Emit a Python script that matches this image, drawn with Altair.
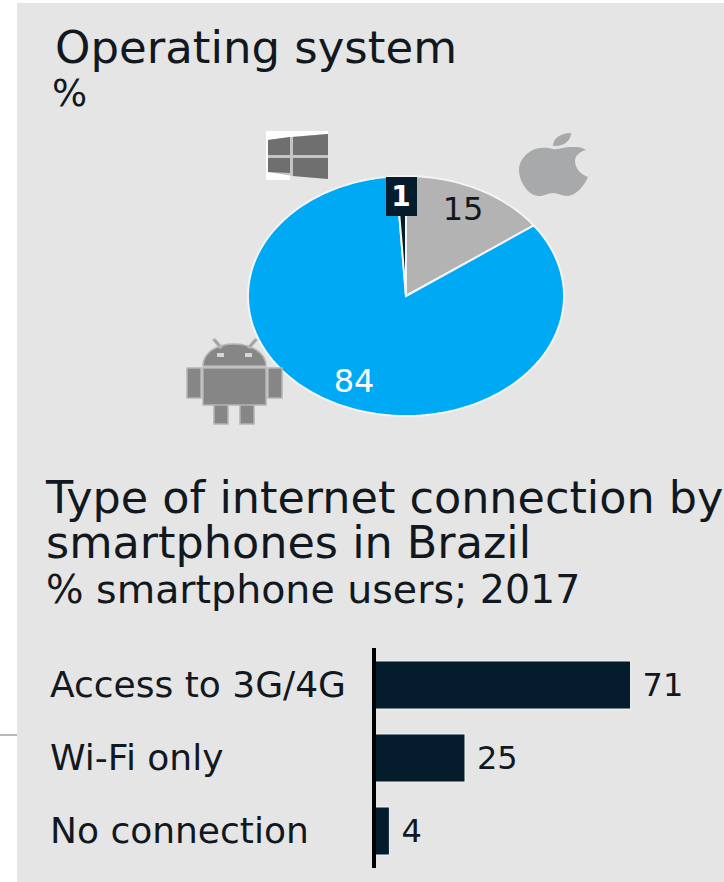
import math
import altair as alt
import pandas as pd

WIDTH, HEIGHT = 724, 882
FONT = "DejaVu Sans"
INK = "#111820"
NAVY = "#051c2c"
PANEL = "#e5e5e5"

# Operating system shares, clockwise from twelve o'clock
os_names = ["iOS", "Android", "Windows"]
os_shares = [15, 84, 1]
os_colors = ["#b3b3b3", "#00a9f4", NAVY]

# Connection types
conn_names = ["Access to 3G/4G", "Wi-Fi only", "No connection"]
conn_values = [71, 25, 4]


def wedge_outline(shares):
    """Outline of every pie slice, in unit-circle coordinates."""
    rows, start = [], 0.0
    total = sum(shares)
    for slice_id, share in enumerate(shares):
        sweep = share / total * 2 * math.pi
        steps = max(4, int(share * 2))
        rows.append({"slice": slice_id, "step": 0, "px": 0.0, "py": 0.0})
        for k in range(steps + 1):
            a = start + sweep * k / steps
            rows.append({"slice": slice_id, "step": k + 1,
                         "px": math.sin(a), "py": math.cos(a)})
        start += sweep
    return pd.DataFrame(rows)


def icon_path(cx, cy, half, commands):
    """Turn page-space path commands into the [-1, 1] box a point shape uses."""
    parts = []
    for cmd, *coords in commands:
        pts = [f"{(coords[i] - cx) / half:.3f},{(coords[i + 1] - cy) / half:.3f}"
               for i in range(0, len(coords), 2)]
        parts.append(cmd + " ".join(pts))
    return " ".join(parts)


def poly(points):
    cmds = [("M", *points[0])] + [("L", *p) for p in points[1:]] + [("Z",)]
    return cmds


one = pd.DataFrame({"k": [0]})


def panel_rect(x0, x1, y0, y1, color):
    return alt.Chart(one).mark_rect(color=color).encode(
        x=alt.value(x0), x2=alt.value(x1), y=alt.value(y0), y2=alt.value(y1))


def label(text, x, baseline_y, size, color=INK, weight="normal"):
    return alt.Chart(pd.DataFrame({"t": [text]})).mark_text(
        align="left", baseline="alphabetic", font=FONT, fontSize=size,
        color=color, fontWeight=weight,
    ).encode(x=alt.value(x), y=alt.value(baseline_y), text="t:N")


def icon(path, cx, cy, half, color, stroke=None, stroke_width=1):
    extra = {"stroke": stroke, "strokeWidth": stroke_width} if stroke else {"strokeWidth": 0}
    return alt.Chart(one).mark_point(
        shape=path, size=(2 * half) ** 2, filled=True, fill=color, opacity=1, **extra
    ).encode(x=alt.value(cx), y=alt.value(cy))


layers = [
    panel_rect(17, WIDTH, 3, HEIGHT, PANEL),
    alt.Chart(one).mark_rule(color="#a0a0a0", strokeWidth=1.5).encode(
        x=alt.value(0), x2=alt.value(17), y=alt.value(735)),
    label("Operating system", 55, 63, 45),
    label("%", 52, 106, 37),
    label("Type of internet connection by", 46, 513, 44.5),
    label("smartphones in Brazil", 46, 558, 44.5),
    label("% smartphone users; 2017", 46, 603, 39.5),
]

# Elliptical pie: the x and y scales span different pixel lengths
outline = wedge_outline(os_shares)
pie_x = alt.Scale(domain=[-1, 1], range=[248, 564])
pie_y = alt.Scale(domain=[-1, 1], range=[416, 176])
for i, color in enumerate(os_colors):
    layers.append(
        alt.Chart(outline[outline["slice"] == i]).mark_line(
            interpolate="linear-closed", fill=color, stroke="#f4f4f4", strokeWidth=2,
        ).encode(
            x=alt.X("px:Q", scale=pie_x, axis=None),
            y=alt.Y("py:Q", scale=pie_y, axis=None),
            order="step:Q",
        )
    )

# Share labels on the pie
shares_df = pd.DataFrame({"name": os_names, "share": os_shares})
layers.append(panel_rect(386, 417, 177, 216, NAVY))
pie_label_style = {
    "iOS": (463, 210, 32, INK, "normal"),
    "Android": (354, 382, 32, "white", "normal"),
    "Windows": (401, 198, 28, "white", "bold"),
}
for name, (x, y, size, color, weight) in pie_label_style.items():
    layers.append(
        alt.Chart(shares_df[shares_df["name"] == name]).mark_text(
            font=FONT, fontSize=size, color=color, fontWeight=weight,
            align="center", baseline="middle",
        ).encode(x=alt.value(x), y=alt.value(y), text="share:Q")
    )

# Windows logo: white edge along the top and left, pale gaps between the panes
windows_pale = poly([(268, 140), (290, 137), (328, 134), (328, 179), (293, 176), (268, 172)])
windows_white = poly([(266, 139), (266, 180), (290, 180), (290, 174), (268, 172), (268, 140),
                      (290, 137), (328, 134), (328, 131), (266, 131)])
windows_panes = (poly([(268, 140), (290, 137), (290, 155), (268, 155)])
                 + poly([(293, 137), (328, 134), (328, 155), (293, 155)])
                 + poly([(268, 158), (290, 158), (290, 173), (268, 172)])
                 + poly([(293, 158), (328, 158), (328, 179), (293, 176)]))
for shape, tone in [(windows_white, "white"), (windows_pale, "#c4c4c4"), (windows_panes, "#6f6f6f")]:
    layers.append(icon(icon_path(297.5, 156, 31, shape), 297.5, 156, 31, tone))

# Apple logo
apple = [
    ("M", 553, 149), ("C", 546, 147, 537, 147, 531, 151), ("C", 524, 155, 519, 162, 519, 170),
    ("C", 519, 181, 528, 196, 539, 196), ("C", 545, 196, 548, 193, 553, 193),
    ("C", 558, 193, 562, 196, 567, 196), ("C", 576, 196, 584, 186, 588, 177),
    ("C", 580, 174, 575, 168, 575, 161), ("C", 575, 156, 579, 152, 586, 150),
    ("C", 580, 146, 575, 147, 570, 147), ("C", 565, 147, 558, 150, 553, 149), ("Z",),
    ("M", 553, 146), ("C", 553, 139, 560, 133, 571, 133), ("C", 571, 141, 563, 147, 553, 146), ("Z",),
]
layers.append(icon(icon_path(553, 165, 35, apple), 553, 165, 35, "#a7a9aa"))

# Android robot
android = [
    ("M", 203, 366), ("C", 203, 352, 218, 344, 234, 344), ("C", 250, 344, 266, 352, 266, 366), ("Z",),
] + poly([(203, 368), (266, 368), (266, 405), (203, 405)]) \
  + poly([(187, 368), (201, 368), (201, 398), (187, 398)]) \
  + poly([(268, 368), (282, 368), (282, 398), (268, 398)]) \
  + poly([(214, 405), (228, 405), (228, 424), (214, 424)]) \
  + poly([(240, 405), (254, 405), (254, 424), (240, 424)]) \
  + poly([(213, 340), (215, 339), (222, 347), (220, 348)]) \
  + poly([(255, 339), (257, 340), (250, 348), (248, 347)])
layers.append(icon(icon_path(234, 382, 48, android), 234, 382, 48, "#868686", "#b4b4b4", 1.5))
eyes = [("M", 217, 353), ("L", 224, 353), ("L", 224, 357), ("L", 217, 357), ("Z",),
        ("M", 245, 353), ("L", 252, 353), ("L", 252, 357), ("L", 245, 357), ("Z",)]
layers.append(icon(icon_path(234, 382, 48, eyes), 234, 382, 48, "#d6d6d6"))

# Connection bars, labels and baseline
conn = pd.DataFrame({"name": conn_names, "value": conn_values})
bar_x = alt.Scale(domain=[0, 100], range=[375, 735])
bar_y = alt.Scale(domain=conn_names, range=[648.5, 867.5], paddingInner=0.342, paddingOuter=0.171)
bar_base = alt.Chart(conn).encode(
    y=alt.Y("name:N", scale=bar_y, axis=None, sort=conn_names),
)
layers.append(bar_base.mark_bar(color=NAVY, stroke="#f4f4f4", strokeWidth=1).encode(
    x=alt.X("value:Q", scale=bar_x, axis=None)))
layers.append(bar_base.mark_text(align="left", baseline="middle", font=FONT, fontSize=32,
                                 color=INK, dx=12, dy=1).encode(
    x=alt.X("value:Q", scale=bar_x, axis=None), text="value:Q"))
layers.append(bar_base.mark_text(align="left", baseline="middle", font=FONT, fontSize=36,
                                 color=INK, dy=1).encode(x=alt.value(50), text="name:N"))
layers.append(alt.Chart(one).mark_rule(color="black", strokeWidth=4).encode(
    x=alt.value(374), y=alt.value(648), y2=alt.value(868)))

chart = alt.layer(*layers).resolve_scale(x="independent", y="independent").properties(
    width=WIDTH, height=HEIGHT, padding=0, background="white",
    autosize=alt.AutoSizeParams(type="none"),
).configure_view(stroke=None)

chart.save("out.html", embed_options={"renderer": "svg", "actions": False})
